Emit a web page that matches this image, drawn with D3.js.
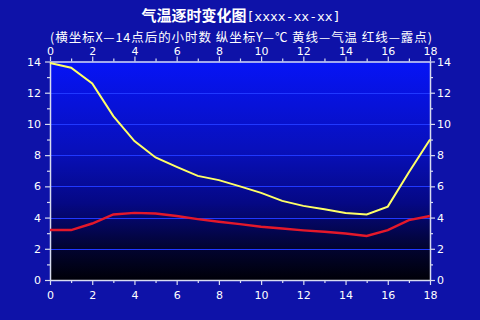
<!DOCTYPE html>
<html>
<head>
<meta charset="utf-8">
<script src="https://cdn.jsdelivr.net/npm/d3@7"></script>
<style>
  body { margin: 0; background: #0e12a8; }
  svg { display: block; }
</style>
</head>
<body>
<div id="chart-area"></div>
<script>
// hours after 14:00, temperature (yellow) and dew point (red)
var hours = d3.range(0, 19);
var temperature = [13.9, 13.6, 12.6, 10.5, 8.9, 7.85, 7.25, 6.67, 6.4, 6.0, 5.58, 5.07, 4.75, 4.54, 4.3, 4.2, 4.7, 6.9, 9.0];
var dewPoint = [3.2, 3.2, 3.62, 4.2, 4.3, 4.26, 4.1, 3.9, 3.73, 3.58, 3.41, 3.3, 3.18, 3.09, 2.98, 2.82, 3.2, 3.84, 4.1];
var xTicks = [0, 2, 4, 6, 8, 10, 12, 14, 16, 18];
var yTicks = [0, 2, 4, 6, 8, 10, 12, 14];
var titleMain = "气温逐时变化图";
var titleDate = "[xxxx-xx-xx]";
var subtitle = "(横坐标X—14点后的小时数 纵坐标Y—℃ 黄线—气温 红线—露点)";

var width = 480;
var height = 320;
var margin = {top: 61.5, right: 50, bottom: 40, left: 50};

var svg = d3.select("#chart-area").append("svg")
    .attr("width", width)
    .attr("height", height);

var defs = svg.append("defs");
var grad = defs.append("linearGradient")
    .attr("id", "plotbg")
    .attr("x1", 0).attr("y1", 0).attr("x2", 0).attr("y2", 1);
grad.append("stop").attr("offset", "0%").attr("stop-color", "#0614f6");
grad.append("stop").attr("offset", "40%").attr("stop-color", "#0810bc");
grad.append("stop").attr("offset", "65%").attr("stop-color", "#050884");
grad.append("stop").attr("offset", "85%").attr("stop-color", "#020432");
grad.append("stop").attr("offset", "100%").attr("stop-color", "#000008");

svg.append("rect")
    .attr("width", width)
    .attr("height", height)
    .attr("fill", "#0e12a8");

var x = d3.scaleLinear()
    .domain([0, 18])
    .range([margin.left, width - margin.right]);

var y = d3.scaleLinear()
    .domain([0, 14])
    .range([height - margin.bottom, margin.top]);

svg.append("rect")
    .attr("x", x(0))
    .attr("y", y(14))
    .attr("width", x(18) - x(0))
    .attr("height", y(0) - y(14))
    .attr("fill", "url(#plotbg)");

// horizontal grid
svg.append("g")
    .selectAll("line")
    .data([2, 4, 6, 8, 10, 12])
    .enter()
    .append("line")
        .attr("x1", x(0))
        .attr("x2", x(18))
        .attr("y1", (d)=>{return Math.round(y(d)) + 0.5;})
        .attr("y2", (d)=>{return Math.round(y(d)) + 0.5;})
        .attr("stroke", "#2038ff")
        .attr("stroke-width", 1);

// axes
var axisColor = "#d8dcf0";
function styleAxis(sel) {
    sel.select(".domain").attr("stroke", axisColor).attr("stroke-width", 1.5);
    sel.selectAll(".tick line").attr("stroke", axisColor).attr("stroke-width", 1.2);
    sel.selectAll(".tick text")
        .attr("fill", "#ffffff")
        .attr("font-family", "DejaVu Sans, sans-serif")
        .attr("font-size", "11px");
}

function minorAxis(axisFn, scale, vals, transform) {
    var a = axisFn(scale).tickValues(vals).tickSize(3).tickFormat("");
    var g = svg.append("g").attr("transform", transform).call(a);
    g.select(".domain").remove();
    g.selectAll(".tick line").attr("stroke", axisColor).attr("stroke-width", 1.2);
}

var xMinor = [1, 3, 5, 7, 9, 11, 13, 15, 17];
var yMinor = [1, 3, 5, 7, 9, 11, 13];

svg.append("g")
    .attr("transform", "translate(0," + y(0) + ")")
    .call(d3.axisBottom(x).tickValues(xTicks).tickSize(5).tickSizeOuter(0).tickPadding(6))
    .call(styleAxis);
minorAxis(d3.axisBottom, x, xMinor, "translate(0," + y(0) + ")");

svg.append("g")
    .attr("transform", "translate(0," + y(14) + ")")
    .call(d3.axisTop(x).tickValues(xTicks).tickSize(5).tickSizeOuter(0).tickPadding(2))
    .call(styleAxis);
minorAxis(d3.axisTop, x, xMinor, "translate(0," + y(14) + ")");

svg.append("g")
    .attr("transform", "translate(" + x(0) + ",0)")
    .call(d3.axisLeft(y).tickValues(yTicks).tickSize(5).tickSizeOuter(0).tickPadding(4))
    .call(styleAxis);
minorAxis(d3.axisLeft, y, yMinor, "translate(" + x(0) + ",0)");

svg.append("g")
    .attr("transform", "translate(" + x(18) + ",0)")
    .call(d3.axisRight(y).tickValues(yTicks).tickSize(5).tickSizeOuter(0).tickPadding(2))
    .call(styleAxis);
minorAxis(d3.axisRight, y, yMinor, "translate(" + x(18) + ",0)");

// lines
var line = d3.line()
    .x((d, i)=>{return x(hours[i]);})
    .y((d)=>{return y(d);});

svg.append("path")
    .datum(dewPoint)
    .attr("d", line)
    .attr("fill", "none")
    .attr("stroke", "#e4182a")
    .attr("stroke-width", 2.4);

svg.append("path")
    .datum(temperature)
    .attr("d", line)
    .attr("fill", "none")
    .attr("stroke", "#ffff66")
    .attr("stroke-width", 2);

// titles
var t = svg.append("text")
    .attr("x", 241)
    .attr("y", 21)
    .attr("text-anchor", "middle")
    .attr("fill", "#ffffff");
t.append("tspan")
    .attr("font-family", "Noto Sans CJK SC")
    .attr("font-weight", "bold")
    .attr("font-size", "15px")
    .text(titleMain);
t.append("tspan")
    .attr("font-family", "DejaVu Sans Mono, monospace")
    .attr("font-size", "13px")
    .text(titleDate);

svg.append("text")
    .attr("x", 50)
    .attr("y", 42)
    .attr("fill", "#ffffff")
    .attr("font-family", "Noto Sans CJK SC")
    .attr("font-size", "12.5px")
    .attr("textLength", 382)
    .attr("lengthAdjust", "spacing")
    .text(subtitle);
</script>
</body>
</html>
